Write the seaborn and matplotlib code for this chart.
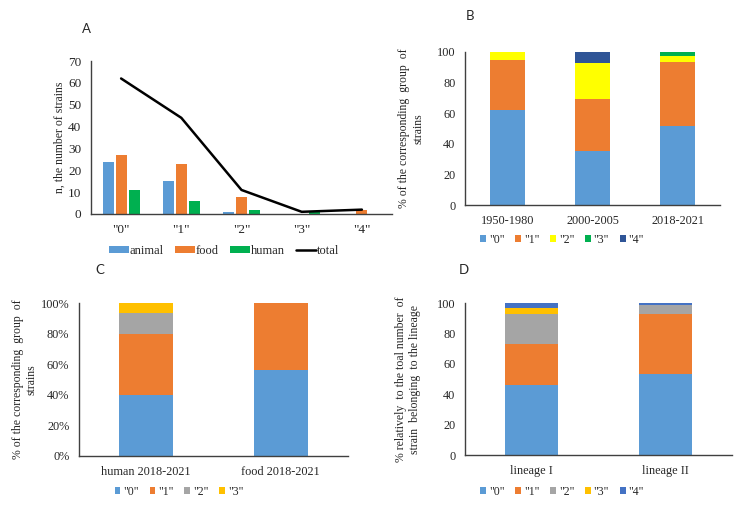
import matplotlib
matplotlib.use("Agg")
import matplotlib.pyplot as plt
import numpy as np
import pandas as pd
import seaborn as sns
from matplotlib.patches import Patch
from matplotlib.lines import Line2D
from matplotlib.ticker import PercentFormatter

# panel A: number of strains per group
groups = ['"0"', '"1"', '"2"', '"3"', '"4"']
animal = [24, 15, 1, 0, 0]
food = [27, 23, 8, 0, 2]
human = [11, 6, 2, 1, 0]
total = [62, 44, 11, 1, 2]

# panel B: % per period
periods = ['1950-1980', '2000-2005', '2018-2021']
b0 = [62, 35, 51.5]
b1 = [33, 34, 41.8]
b2 = [5, 24, 4.3]
b3 = [0, 0, 2.4]
b4 = [0, 7, 0]

# panel C: % per source
sources = ['human 2018-2021', 'food 2018-2021']
c0 = [40, 56.5]
c1 = [40, 43.5]
c2 = [13.3, 0]
c3 = [6.7, 0]

# panel D: % per lineage
lineages = ['lineage I', 'lineage II']
d0 = [46, 53]
d1 = [27, 39.5]
d2 = [19.5, 6.3]
d3 = [4, 0]
d4 = [3.5, 0.9]

blue = '#5B9BD5'
orange = '#ED7D31'
green = '#00B050'
gray = '#A5A5A5'
gold = '#FFC000'
yellow = '#FFFF00'
navy = '#2F5597'
blue2 = '#4472C4'

sns.set_theme(style="white")
plt.rcParams['font.family'] = ['Liberation Serif', 'DejaVu Serif']
txt = '#262626'
fs = 8.8
fs_lab = 8.5

fig = plt.figure(figsize=(7.43, 5.09), dpi=100)
W, H = 743, 509


def add_ax(l, r, t, b):
    return fig.add_axes([l / W, 1 - b / H, (r - l) / W, (b - t) / H])


def style(ax, size=fs):
    sns.despine(ax=ax)
    for s in ['left', 'bottom']:
        ax.spines[s].set_color('#404040')
        ax.spines[s].set_linewidth(1.0)
    ax.tick_params(length=0, labelsize=size, colors=txt, pad=7)
    ax.set_xlabel('')


def stacked(ax, cats, layers, colors, width):
    cum = np.cumsum(np.array(layers, dtype=float), axis=0)
    for i in range(len(layers) - 1, -1, -1):
        sns.barplot(x=cats, y=cum[i], color=colors[i], width=width,
                    linewidth=0, saturation=1, ax=ax)


def square_legend(labels, colors, x, y):
    handles = [Patch(facecolor=c, edgecolor='none') for c in colors]
    fig.legend(handles, labels, loc='center', bbox_to_anchor=(x / W, 1 - y / H),
               ncol=len(labels), frameon=False, fontsize=8.5, handlelength=0.5,
               handleheight=0.5, handletextpad=0.25, columnspacing=0.9,
               labelcolor=txt)


# ---- A
axA = add_ax(91, 392, 61, 214)
dfA = pd.DataFrame({
    'group': groups * 3,
    'n': animal + food + human,
    'source': ['animal'] * 5 + ['food'] * 5 + ['human'] * 5,
})
sns.barplot(data=dfA, x='group', y='n', hue='source',
            palette=[blue, orange, green], width=0.65, gap=0.15,
            linewidth=0, saturation=1, ax=axA, legend=False)
sns.lineplot(x=np.arange(len(total)), y=total, color='black', linewidth=1.8, ax=axA)
axA.set_ylim(0, 70)
axA.set_yticks(range(0, 71, 10))
axA.set_xlim(-0.5, 4.5)
style(axA, 9.5)
axA.set_ylabel('n, the number of strains', fontsize=fs_lab, color=txt)
axA.yaxis.set_label_coords(-0.085, 0.5)
hA = [Patch(facecolor=c, edgecolor='none') for c in [blue, orange, green]]
hA.append(Line2D([0], [0], color='black', linewidth=1.8))
fig.legend(hA, ['animal', 'food', 'human', 'total'], loc='center',
           bbox_to_anchor=(224 / W, 1 - 251 / H), ncol=4, frameon=False,
           fontsize=9, handlelength=1.6, handleheight=0.55,
           handletextpad=0.05, columnspacing=0.9, labelcolor=txt)

# ---- B
axB = add_ax(465, 720, 52, 205)
stacked(axB, periods, [b0, b1, b2, b3, b4], [blue, orange, yellow, green, navy], 0.42)
axB.set_ylim(0, 100)
axB.set_yticks(range(0, 101, 20))
style(axB)
axB.set_ylabel('% of the corresponding  group  of\nstrains', fontsize=fs_lab, color=txt)
axB.yaxis.set_label_coords(-0.16, 0.5)
square_legend(groups, [blue, orange, yellow, green, navy], 562, 240)

# ---- C
axC = add_ax(79, 348, 303, 456)
stacked(axC, sources, [c0, c1, c2, c3], [blue, orange, gray, gold], 0.4)
axC.set_ylim(0, 100)
axC.set_yticks(range(0, 101, 20))
axC.yaxis.set_major_formatter(PercentFormatter(xmax=100, decimals=0))
style(axC)
axC.set_ylabel('% of the corresponding  group  of\nstrains', fontsize=fs_lab, color=txt)
axC.yaxis.set_label_coords(-0.155, 0.5)
square_legend(groups[:4], [blue, orange, gray, gold], 179, 492)

# ---- D
axD = add_ax(465, 732, 303, 455)
stacked(axD, lineages, [d0, d1, d2, d3, d4], [blue, orange, gray, gold, blue2], 0.4)
axD.set_ylim(0, 100)
axD.set_yticks(range(0, 101, 20))
style(axD)
axD.set_ylabel('% relatively  to the toal number  of\nstrain  belonging  to the lineage',
               fontsize=fs_lab, color=txt)
axD.yaxis.set_label_coords(-0.165, 0.5)
square_legend(groups, [blue, orange, gray, gold, blue2], 562, 492)

# panel letters
for letter, x, y in [('A', 86, 29), ('B', 470, 16), ('C', 100, 270), ('D', 464, 270)]:
    fig.text(x / W, 1 - y / H, letter, fontsize=9.5, family='Lato', color=txt,
             ha='center', va='center')

fig.savefig('out.png', dpi=100)
